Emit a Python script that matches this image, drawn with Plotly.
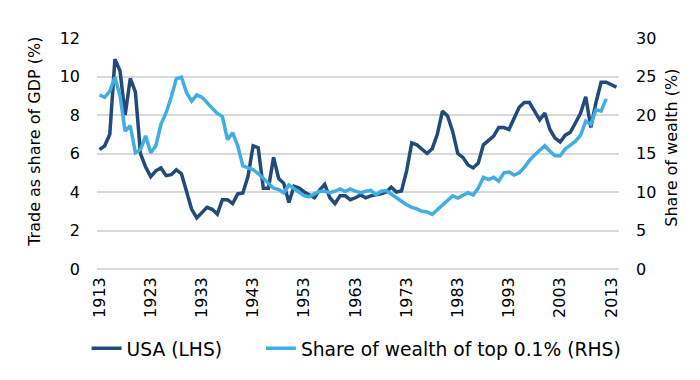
import plotly.graph_objects as go

years = list(range(1913, 2015))

usa_trade = [
    6.2, 6.4, 7.0, 10.9, 10.3, 8.0, 9.9, 9.2, 6.0, 5.3,
    4.8, 5.1, 5.25, 4.85, 4.9, 5.15, 4.95, 3.95, 3.1, 2.65,
    2.9, 3.2, 3.1, 2.85, 3.6, 3.6, 3.4, 3.9, 3.95, 4.8,
    6.4, 6.3, 4.2, 4.2, 5.8, 4.7, 4.45, 3.45, 4.3, 4.2,
    4.0, 3.85, 3.7, 4.1, 4.4, 3.7, 3.4, 3.8, 3.8, 3.6,
    3.7, 3.85, 3.7, 3.8, 3.85, 3.9, 4.0, 4.25, 4.0, 4.05,
    5.1, 6.55, 6.45, 6.2, 6.0, 6.25, 7.0, 8.2, 7.95, 7.15,
    6.0, 5.8, 5.4, 5.25, 5.5, 6.45, 6.65, 6.9, 7.35, 7.35,
    7.25, 7.8, 8.4, 8.65, 8.65, 8.2, 7.75, 8.1, 7.25, 6.8,
    6.6, 6.95, 7.1, 7.6, 8.1, 8.95, 7.35, 8.65, 9.7, 9.7,
    9.55, 9.45,
]

wealth_years = list(range(1913, 2013))
wealth_top01 = [
    22.6, 22.3, 23.1, 24.9, 22.5, 17.9, 18.6, 15.1, 15.5, 17.3,
    15.1, 16.0, 18.8, 20.3, 22.3, 24.7, 24.9, 22.9, 21.8, 22.6,
    22.3, 21.6, 20.8, 20.2, 19.8, 16.8, 17.7, 16.0, 13.4, 13.1,
    12.9, 12.4, 11.8, 11.1, 10.5, 10.3, 9.9, 10.9, 10.4, 10.0,
    9.5, 9.4, 9.7, 10.1, 10.1, 9.9, 10.1, 10.4, 10.1, 10.4,
    10.1, 9.9, 10.1, 10.2, 9.65, 10.1, 10.2, 9.7, 9.2, 8.8,
    8.35, 8.0, 7.8, 7.5, 7.4, 7.1, 7.7, 8.3, 9.0, 9.5,
    9.2, 9.6, 9.9, 9.6, 10.5, 11.9, 11.6, 11.9, 11.4, 12.5,
    12.6, 12.2, 12.5, 13.2, 14.1, 14.8, 15.4, 16.0, 15.3, 14.7,
    14.7, 15.6, 16.1, 16.6, 17.4, 19.2, 18.8, 20.7, 20.5, 22.1,
]

x_tick_years = [1913, 1923, 1933, 1943, 1953, 1963, 1973, 1983, 1993, 2003, 2013]
x_tick_labels = [str(y) for y in x_tick_years]

left_ticks = [0, 2, 4, 6, 8, 10, 12]
right_ticks = [0, 5, 10, 15, 20, 25, 30]

DARK = "#224a7a"
LIGHT = "#41ade2"
GRID = "#d9d9d9"
FONT = "DejaVu Sans, Verdana, sans-serif"

fig = go.Figure()
fig.add_trace(go.Scatter(
    x=years, y=usa_trade, name="USA (LHS)", mode="lines",
    line=dict(color=DARK, width=3.5), yaxis="y", legend="legend",
))
fig.add_trace(go.Scatter(
    x=wealth_years, y=wealth_top01, name="Share of wealth of top 0.1% (RHS)",
    mode="lines", line=dict(color=LIGHT, width=3.5), yaxis="y2", legend="legend2",
))

legend_common = dict(
    orientation="h", yanchor="middle", xanchor="left",
    font=dict(family=FONT, size=18.7, color="#000000"),
    bgcolor="rgba(0,0,0,0)",
)

fig.update_layout(
    width=700, height=380,
    margin=dict(l=89, r=89, t=30, b=119),
    paper_bgcolor="white", plot_bgcolor="white",
    font=dict(family=FONT, size=16, color="#000000"),
    showlegend=True,
    legend=dict(x=-0.02, y=-0.345, **legend_common),
    legend2=dict(x=0.314, y=-0.345, **legend_common),
    xaxis=dict(
        range=[1912.5, 2014.5],
        tickmode="array", tickvals=x_tick_years, ticktext=x_tick_labels,
        tickangle=-90, showgrid=False, zeroline=False, showline=False,
        ticks="", ticklabelstandoff=4,
        tickfont=dict(family=FONT, size=16, color="#000000"),
    ),
    yaxis=dict(
        range=[0, 12], tickmode="array", tickvals=left_ticks,
        showgrid=True, gridcolor=GRID, gridwidth=2,
        zeroline=True, zerolinecolor=GRID, zerolinewidth=2,
        showline=False, ticks="", ticklabelstandoff=16,
        tickfont=dict(family=FONT, size=16, color="#000000"),
    ),
    yaxis2=dict(
        range=[0, 30], tickmode="array", tickvals=right_ticks,
        overlaying="y", side="right", showgrid=False, zeroline=False,
        showline=False, ticks="", ticklabelstandoff=16,
        tickfont=dict(family=FONT, size=16, color="#000000"),
    ),
    annotations=[
        dict(text="Trade as share of GDP (%)", textangle=-90,
             xref="paper", yref="paper", x=-0.119, y=0.55,
             xanchor="center", yanchor="middle", showarrow=False,
             font=dict(family=FONT, size=16, color="#000000")),
        dict(text="Share of wealth (%)", textangle=-90,
             xref="paper", yref="paper", x=1.101, y=0.524,
             xanchor="center", yanchor="middle", showarrow=False,
             font=dict(family=FONT, size=16, color="#000000")),
    ],
)

fig.write_html("out.html")
